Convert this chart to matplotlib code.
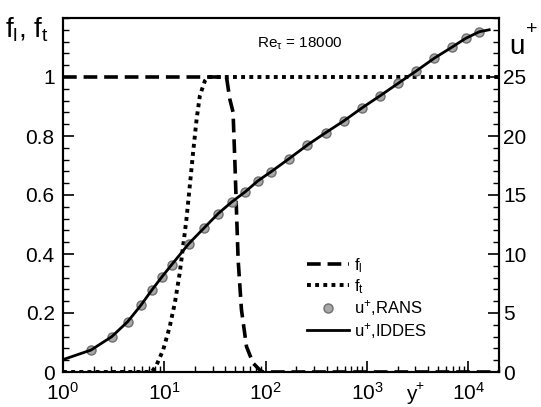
import numpy as np
import matplotlib
matplotlib.use("Agg")
import matplotlib.pyplot as plt
from matplotlib.ticker import MultipleLocator, LogLocator, NullFormatter

plt.rcParams['font.family'] = ['Liberation Sans', 'DejaVu Sans']
plt.rcParams['mathtext.fontset'] = 'custom'
plt.rcParams['mathtext.rm'] = 'Liberation Sans'
plt.rcParams['mathtext.it'] = 'Liberation Sans'

# u+ from RANS (markers)
yp_rans = [1.89, 3.02, 4.34, 5.86, 7.53, 9.51, 11.85, 17.4, 24.6, 33.9, 46.2, 63.0,
           83.4, 112, 170, 258, 390, 587, 897, 1349, 2029, 3052, 4593, 6908, 9400, 12830]
u_rans = [1.86, 2.99, 4.26, 5.65, 6.95, 8.09, 9.11, 10.87, 12.20, 13.42, 14.41, 15.28,
          16.19, 16.95, 18.08, 19.24, 20.28, 21.27, 22.40, 23.42, 24.47, 25.51, 26.59,
          27.54, 28.28, 28.84]

# u+ from IDDES (solid line)
yp_iddes = [1.0, 1.89, 3.02, 4.34, 5.86, 7.53, 9.51, 11.85, 17.4, 24.6, 33.9, 46.2, 63.0,
            83.4, 112, 170, 258, 390, 587, 897, 1349, 2029, 3052, 4593, 6908, 9400,
            12830, 16000]
u_iddes = [1.05, 1.86, 2.99, 4.26, 5.65, 6.95, 8.09, 9.11, 10.87, 12.20, 13.42, 14.41,
           15.28, 16.19, 16.95, 18.08, 19.24, 20.28, 21.27, 22.40, 23.42, 24.47, 25.51,
           26.59, 27.54, 28.28, 28.84, 29.0]

# blending function f_l
yp_fl = [1.0, 41.0, 44.2, 47.6, 49.5, 51.4, 53.4, 57.6, 64.6, 75.0, 87.3, 93.4, 20000]
fl = [1.0, 1.0, 0.925, 0.881, 0.721, 0.551, 0.381, 0.211, 0.086, 0.030, 0.007, 0.0, 0.0]

# f_t
yp_ft = [1.0, 7.5, 8.38, 9.73, 11.3, 12.7, 14.2, 15.3, 16.5, 17.8, 19.2, 20.8, 22.4,
         25.1, 27.0, 20000]
ft = [0.0, 0.0, 0.024, 0.075, 0.154, 0.235, 0.337, 0.426, 0.517, 0.630, 0.744, 0.857,
      0.937, 0.987, 1.0, 1.0]

fig = plt.figure(figsize=(5.41, 4.07), dpi=100)
ax = fig.add_axes([63/541, 1-372/407, 436/541, 354/407])
ax2 = ax.twinx()

ax.plot(yp_fl, fl, color='black', lw=2.6, ls=(0, (3.8, 1.9)), label='f$_\\mathregular{l}$')
ax.plot(yp_ft, ft, color='black', lw=2.8, ls=(0, (1, 1.1)), label='f$_\\mathregular{t}$')
ax2.plot(yp_rans, u_rans, ls='none', marker='o', ms=6.5, mfc='#a8a8a8', mec='#6e6e6e',
         mew=1.0, label='u$^\\mathregular{+}$,RANS')
ax2.plot(yp_iddes, u_iddes, color='black', lw=2.0, label='u$^\\mathregular{+}$,IDDES')

ax.set_xscale('log')
ax.set_xlim(1, 2e4)
ax.set_ylim(0, 1.2)
ax2.set_ylim(0, 30)

ax.yaxis.set_minor_locator(MultipleLocator(0.04))
ax2.yaxis.set_minor_locator(MultipleLocator(1))
ax.xaxis.set_major_locator(LogLocator(base=10, numticks=10))
ax.xaxis.set_minor_locator(LogLocator(base=10, subs=np.arange(2, 10), numticks=20))
ax.xaxis.set_minor_formatter(NullFormatter())
ax.set_yticks([0, 0.2, 0.4, 0.6, 0.8, 1.0])
ax.set_yticklabels(['0', '0.2', '0.4', '0.6', '0.8', '1'])
ax2.set_yticks([0, 5, 10, 15, 20, 25])

ax.tick_params(axis='y', which='both', direction='in', left=True, right=False,
               labelsize=15, pad=6)
ax.tick_params(axis='x', which='both', direction='in', top=False, labelsize=15, pad=7)
ax2.tick_params(axis='y', which='both', direction='in', labelsize=15, pad=3)
for a in (ax, ax2):
    a.tick_params(which='major', length=8, width=1.2)
    a.tick_params(which='minor', length=4.5, width=1.0)
    for s in a.spines.values():
        s.set_linewidth(1.5)

# axis titles
fig.text(5/541, 1-38/407, 'f$_\\mathregular{l}$, f$_\\mathregular{t}$', fontsize=20)
fig.text(509/541, 1-54/407, 'u', fontsize=20)
fig.text(526/541, 1-34/407, '+', fontsize=14)
fig.text(406/541, 1-400/407, 'y', fontsize=15)
fig.text(415/541, 1-390/407, '+', fontsize=10)
ax.text(0.445, 0.915, 'Re$_\\mathregular{\\tau}$ = 18000', transform=ax.transAxes,
        fontsize=11)

h1, l1 = ax.get_legend_handles_labels()
h2, l2 = ax2.get_legend_handles_labels()
ax2.legend(h1 + h2, l1 + l2, loc='upper left', bbox_to_anchor=(0.525, 0.37),
           frameon=False, fontsize=12, handlelength=2.5, handletextpad=0.35,
           labelspacing=0.15)

fig.savefig('out.png', dpi=100)
